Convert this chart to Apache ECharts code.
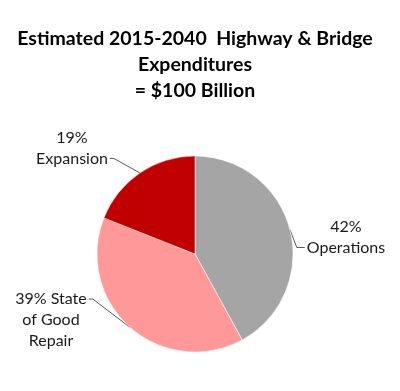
<!DOCTYPE html>
<html>
<head>
<meta charset="utf-8">
<script src="https://cdn.jsdelivr.net/npm/echarts@6/dist/echarts.min.js"></script>
<style>html,body{margin:0;padding:0;background:#fff;}#c{width:400px;height:391px;}</style>
</head>
<body>
<div id="c"></div>
<script>
const categories = ['Operations', 'State of Good Repair', 'Expansion'];
const values = [42, 39, 19];
const labelTexts = ['42%\nOperations', '39% State\nof Good\nRepair', '19%\nExpansion'];
const colors = ['#A5A5A5', '#FF9999', '#C00000'];
const labelSpots = [[346, 237], [51, 320], [72, 148]];
// which side of the label the leader attaches to, and which text line
const leaderSide = ['left', 'right', 'right'];
const leaderLine = [1, 0, 1];
const LH = 21;

const chart = echarts.init(document.getElementById('c'));
chart.setOption({
  backgroundColor: '#fff',
  animation: false,
  title: {
    text: 'Estimated 2015-2040  Highway & Bridge\nExpenditures\n= $100 Billion',
    left: 190,
    top: 21,
    textAlign: 'center',
    textStyle: { fontFamily: 'Lato', fontWeight: 'bold', fontSize: 19.5, lineHeight: 26, color: '#000' }
  },
  series: [{
    type: 'pie',
    center: [195, 254],
    radius: 98,
    startAngle: 90,
    clockwise: true,
    data: categories.map((c, i) => ({ name: c, value: values[i], itemStyle: { color: colors[i] } })),
    itemStyle: { borderColor: '#fff', borderWidth: 0.5 },
    label: {
      show: true,
      position: 'outside',
      formatter: p => labelTexts[p.dataIndex],
      fontFamily: 'Lato',
      fontSize: 16,
      lineHeight: LH,
      color: '#1a1a1a',
      align: 'center',
      overflow: 'none'
    },
    labelLine: { show: true, length: 10, length2: 10, lineStyle: { color: '#595959', width: 1 } },
    labelLayout: p => {
      const i = p.dataIndex;
      const [sx, sy] = labelSpots[i];
      const w = p.labelRect.width, h = p.labelRect.height;
      const anchor = p.labelLinePoints ? p.labelLinePoints[0] : [sx, sy];
      const ly = sy - h / 2 + LH * leaderLine[i] + LH / 2;
      let pts;
      if (leaderSide[i] === 'left') {
        const ex = sx - w / 2 - 2;
        pts = [anchor, [ex - 8, ly], [ex, ly]];
      } else {
        const ex = sx + w / 2 + 2;
        pts = [anchor, [ex + 4, ly], [ex, ly]];
      }
      return { x: sx, y: sy, align: 'center', verticalAlign: 'middle', labelLinePoints: pts };
    }
  }]
});
</script>
</body>
</html>
